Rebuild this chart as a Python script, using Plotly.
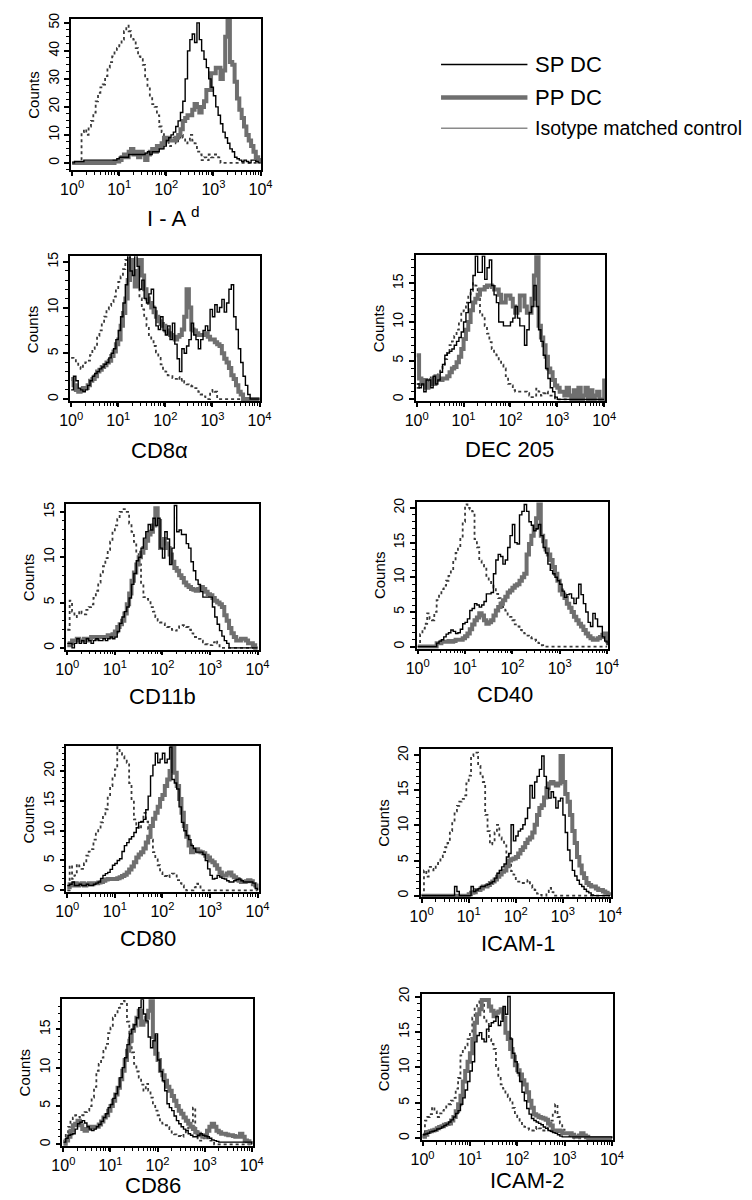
import plotly.graph_objects as go

W, H = 752, 1200
FONT = "Liberation Sans, Arial, Helvetica, sans-serif"

# channel grid: log10 fluorescence, 0.05 decade bins from 10^0 to 10^4
log_bins = [i / 20 for i in range(81)]
fluorescence = [10 ** b for b in log_bins]

# ---------------- I-A^d ----------------
iad_iso = [0,0,0,0,11,12,10,13,15,18,
           22,25,27,28,31,34,36,38,40,41,
           42,44,47,49,47,45,44,41,38,37,
           35,30,27,24,21,20,17,13,11,9,
           8,6,8,9,7,9,10,9,7,8,
           10,8,7,4,3,1,2,1,3,2,
           3,3,2,0,0,0,0,0,0,0,
           0,0,0,0,0,0,0,0,0,0, 0]
iad_sp = [0,0.5,0.5,0.5,0.5,1,1,1,1,1,
          1,1,1,1,1,1,1,1,1,1.5,
          2,2,2,2,3,3,3,3,3,3,
          3,3.5,4,3,4,4,4,5,5,6,
          8,9,10,11,13,15,18,22,30,40,
          44,46,43,50,44,40,37,34,30,27,
          24,20,17,14,11,9,7,5,4,2,
          1.5,1,0.5,1,0.5,0,1,1,0.5,0, 0]
iad_pp = [0,0,0,0,0,0,0,0,0,0,
          0,0,0,0,0,0,0,0,0.5,0.5,
          1,2,3,2,4,5,3,4,2,4,
          3,1,3,4,5,4,6,5.5,7,9,
          9,8,8,8,9,10,12,15,16,17,
          17,19,21,20,18,20,22,26,26,32,
          32,34,34,30,33,45,52,36,35,29,
          23,19,16,13,10,8,6,4,2,1, 0]

# ---------------- CD8a ----------------
cd8_iso = [4.5,4.4,4,3.5,3.3,3.8,4,4.2,4.8,5.5,
           5.8,6.9,7.5,8.3,9,9.8,10.2,10.6,11.2,12,
           12.8,13.4,14.2,15.2,15.5,14.8,14,13,12.3,11,
           9.8,9,8,7,6.5,5.8,5.1,4.5,3.8,3.3,
           3,2.6,2.5,2.3,2.2,2.4,2,2.2,1.8,1.6,
           1.5,1.4,1.2,1.2,0.8,0.5,0.3,0,0,0.8,
           1,0.8,0,0,0,0,0,0,0,0,
           0,0,0,0,0,0,0,0,0,0, 0]
cd8_sp = [1,2.5,2,1.2,1,0.8,1,1.5,2,2.5,
          2.8,3,3.3,3.5,3.8,4,4.5,5,5.5,6.5,
          7.5,9,10.5,12.5,16,14,13.5,16,14.5,12,
          13,11,10.5,11.5,12,10,8,7.6,9,7.5,
          7,8,6.5,8.3,6,4.4,3,5.5,5,5.8,
          6.5,8.3,7,6.5,5.5,6.5,7.5,8,7.5,9.8,
          9,10.3,9.5,10,10.9,9.5,10.5,12,12.5,9,
          7.6,5.5,4,2.5,1.5,0.5,0,0,0,0, 0]
cd8_pp = [2.2,1.5,1,0.8,1,1.2,1.2,1.5,2,2.2,
          2.5,3,3.2,3.5,3.7,4,4.2,4.7,5.2,6,
          6.5,8,9.4,11,13,15.2,14,12.3,14,15.2,
          13.5,12,11,10.5,10,9.5,9,8.5,8.2,8,
          7.5,7.2,7,6.8,6.5,6.8,7,7.6,9,12,
          10,7.6,7.5,7.2,7,7,7,7.2,6.8,6.5,
          6.5,6.2,6,5.8,5,4.4,4,3.4,2.6,2.2,
          1.5,0.8,0.5,0,0,0,0,0,0,0, 0]

# ---------------- DEC 205 ----------------
dec_iso = [1.5,2,2.5,2.5,2,2.5,3,2.5,2.5,3.5,
           4,4.5,5.2,6,7,7.5,8.2,9,10,11.2,
           11.5,12.5,13.4,14,15,14.7,13,11.2,10.5,9.5,
           8.5,7.4,6.5,6,5.7,5,4.5,4,3,2,
           1.8,1.2,1,1,1,1,1,0.8,0.5,0.3,
           0.5,1.4,1,0.5,0.8,1,0.5,0.5,0.3,0,
           0,0,0,0,0,0,0,0,0,0,
           0,0,0,0,0,0,0,0,0,0, 0]
dec_sp = [2,1.5,2,1,2.5,2.5,1.5,3,2,2.5,
          3.5,4.5,5.7,6,6.2,6.5,7,7.5,8,8.7,
          10,11.2,12.5,14.2,16,18.5,16.4,16.4,18.5,15.5,
          17,18,14.7,13.5,12.5,10,10,9.5,9.5,9.5,
          10,10.5,12,10.5,9.5,9.5,7,9,11.2,12,
          14.7,12,9,7.5,5.7,4,2.7,1.5,1,0.3,
          0,0,0,0,0,0,0,0,0,0,
          0,0,0,0,0,0,0,0,0,0, 0]
dec_pp = [5.7,2.7,2,2.5,1.5,2,2.5,2,3,2.5,
          2.5,2.7,2.7,3,3.5,4,4.2,4.8,5.5,6.5,
          7.8,9,10,11.5,12.5,13,13.5,14.2,14.2,14.5,
          14.7,14.7,14.5,14.2,14.2,13.5,12.5,12.5,13.4,13.4,
          13,12,11.2,11.5,13.4,13.4,12,11.2,11.2,13,
          16,18.5,9.5,8,7,5.5,4,3.5,2.5,1.8,
          1.5,1,1,0.5,1.5,0.5,0,1.2,0,1.5,
          0,0.5,1.5,0,1.2,0,0.5,1,0,0, 2.7]

# ---------------- CD11b ----------------
cd11b_iso = [2,5.2,4,3.4,3.8,4.1,3.8,3.7,4.2,4.5,
             4.8,5.5,6.3,7.2,8.1,9,9.9,10.8,11.7,12.8,
             13.5,14.2,15,15.3,15.3,15,13.7,12.8,11.7,10.5,
             9.2,7,5.6,5.4,5.2,4.5,4,3.4,3,2.8,
             2.7,2.5,2.3,2.1,2,1.9,2.2,2.5,2.5,2.4,
             2.3,2,1.6,1.2,1.2,1,0.8,0.6,0.4,0.3,
             0.3,0.6,0.8,0.5,0,0,0,0,0,0,
             0,0,0,0,0,0,0,0,0,0, 0]
cd11b_sp = [0.5,0.5,0,0.5,1,0.5,0.8,0.5,1,0.8,
            0.5,0.8,1,0.8,0.8,1,0.8,1,1.2,1,
            1.2,1.8,2.7,3.4,4,4.5,5.5,7,8.2,9.6,
            10,11,12.1,12.8,13.6,13,14.3,13.5,14.3,11,
            9.9,12.8,12,9.2,11,15.7,12.8,13,12.5,12.5,
            11.5,11,9.5,8.5,7.5,7,6.2,5.6,5.6,5.6,
            5.6,4.5,3.4,2.6,1.9,1.3,0.8,0.5,0,0,
            0,0,0,0,0,0,0,0,0,0, 0]
cd11b_pp = [0.3,0.5,0.8,0.8,1,0.8,0.8,1,0.8,1,
            1.2,1.2,1,1.2,1.2,1.2,1.2,1.4,1.2,1.5,
            1.8,2.3,2.6,3,3.8,4.8,6,7.4,8.3,9.2,
            10,10.5,11,11.8,12.5,12.8,13.5,15.4,14,11,
            12,11.5,11,10.3,9.5,8.8,8.5,8,7.7,7.2,
            6.9,6.7,6.5,6.4,6.3,6.5,6.7,6.5,6.2,5.9,
            5.8,5.5,5.2,5,4.8,4.5,3.6,3,2.2,1.6,
            1.2,0.8,0.8,1,1,0.8,0.5,0.5,0.3,0, 0]

# ---------------- CD40 ----------------
cd40_iso = [0,1.8,2.6,3.3,4.8,4,3.8,5,6.7,7.5,
            8.3,8.8,9.5,10.2,11,12.4,13.5,14.3,15.7,18,
            20.5,20,19.8,19.5,15.5,14.3,12.4,11.8,11.4,10.2,
            9.5,9,8.5,7.6,7,6.2,5.7,5.2,4.6,4.3,
            3.8,3.2,2.9,2.4,2.2,1.9,1.6,1.4,1.2,1,
            0.8,0.5,0.2,0,0,0,0,0,0,0,
            0,0,0,0,0,0,0,0,0,0,
            0,0,0,0,0,0,0,0,0,0, 0]
cd40_sp = [0,0,0,0,0,0,0,0,0.5,0.8,
           1,1.4,1.8,2,2.4,2.2,1.9,2,2.5,3.3,
           3.5,4,5.2,5.5,6.2,6,5.7,6,6.5,7.6,
           7.6,7.8,10.5,12.5,13.3,13,11.9,12.5,14.3,16,
           17.6,15,14.8,19,19.5,20.5,19.5,18,17.5,16.7,
           17,17.6,16,14.3,13.5,11.9,11,10.5,10,9.5,
           9,8,7.1,7.5,7.6,7,6.2,7,9,7.5,
           6.2,5,3.5,2.9,4.8,4,2.9,2.9,1.4,0.8, 0.2]
cd40_pp = [0,0,0,0,0,0,0,0,0.5,0.5,
           0.7,0.7,0.7,0.8,0.7,0.8,1,1,1,1.2,
           1.5,1.9,2.5,3.2,3.8,4.2,4.8,4.5,3.8,3.3,
           3.5,3.8,4.5,5.2,5.7,6.2,6.7,7.2,7.8,8.1,
           8.5,8.8,9,9.5,10,10.5,13.3,14.8,16,17.1,
           18.5,20.5,16,15.2,14,13.3,12.5,11.5,10.5,9.5,
           8.1,7.5,7,6.2,5.6,5,4.3,3.8,3.3,2.9,
           2.4,1.9,1.5,1.2,1,1,1.2,1.4,1.7,1.9, 0.5]

# ---------------- CD80 ----------------
cd80_iso = [0,4.2,1.9,2.5,4.4,4,3.6,4.5,5.8,6.5,
            6.9,8.5,9.7,10.5,11.4,12.5,13.6,15.8,17.5,19,
            20.3,24,23,22.5,22,21.4,18,15.3,11.9,11,
            10.3,11.5,13,11.5,10.3,8.5,6.4,5.2,4.2,3,
            2.5,2.4,2.2,2.5,2.8,2.5,1.7,1.2,0.8,0.3,
            0,0,0,0.5,1.1,0.8,0,0,0,0,
            0,0,0,0,0,0,0,0,0,0,
            0,0,0,0,0,0,0,0,0,0, 0]
cd80_sp = [0.8,1,1.4,0.8,0.8,1,0.8,0.8,1,0.8,
           0.8,1,1.2,1.4,2,2.5,2.8,3,3.5,4.2,
           4.5,5,5.3,6.5,7.5,8,8.6,9,9.7,10.5,
           11.4,11.5,11.9,13.5,15.8,19.2,21,23,21.4,22,
           23,21.4,22,24,18.6,18,17,14,11.4,10,
           9.2,8.5,7.5,7,6.4,6.4,6.4,6,5,3.6,
           2.5,1.9,2,2.5,2.2,2,1.9,1.6,1.4,1.4,
           1.6,1.8,1.9,1.6,1.4,1.4,1.4,1.4,1.2,0.3, 0]
cd80_pp = [0.5,1,0.8,1.2,0.8,1,1.2,0.8,1,1.2,
           1,1.2,1.2,1.3,1.4,1.6,1.8,1.9,1.9,1.9,
           1.9,2,2.2,2.4,2.6,3,3.5,4,4.7,5.5,
           6,6.4,7,8,9,10.8,12,13,14,15.3,
           16,17.5,18.6,20,24,19.7,17.5,15.3,13,10.8,
           9,7.5,6.4,6.8,6.9,6.5,6.4,6.2,5.8,5.5,
           5,4.7,4.2,3.6,3,2.5,2.5,2.8,3,2.5,
           2.2,1.9,1.6,1.4,1.4,1.5,1.7,1.5,1,0.8, 0]

# ---------------- ICAM-1 ----------------
icam1_iso = [0.1,3.6,2.7,4.1,3.8,3.6,4.5,5,5.5,6.2,
             6.9,7.5,9.2,10.5,12,12.8,13.4,13.8,14.3,16,
             17.1,19.9,20.4,20.4,18.5,17,16.2,11.5,9.2,7.3,
             7.5,9,10.1,8.3,8,7.3,6,5,3.5,3,
             2.2,2,1.8,1.8,2,2.2,1.5,1.1,0.8,0.3,
             0.1,0,0,0.5,1.1,0.5,0,0,0,0,
             0,0,0,0,0,0,0,0,0,0,
             0,0,0,0,0,0,0,0,0,0, 0]
icam1_sp = [0,0,0,0,0,0,0,0,0,0,
            0,0,0,0,1.3,0.6,0,0,0,0,
            0,1.3,0.6,0.8,1,1.3,1.3,1.5,1.6,1.8,
            2,2.5,3.2,3.6,4.1,4.5,5.5,6,10.1,7.8,
            8.5,9.2,9.5,10.1,11,12.5,15.7,13.9,16.2,17,
            18,19.9,17,15.3,13.9,14.8,14,12.5,13.5,13.9,
            11.5,9,6.5,5,3.6,2.8,2.2,1.6,1.3,0.9,
            0.6,0.4,0.1,0,0,0,0,0,0,0, 0]
icam1_pp = [0,0,0,0,0,0,0,0,0,0,
            0,0,0,0,0,0,0,0,0,0,
            0.2,0.4,0.5,0.8,0.8,1,1.3,1.3,1.5,1.8,
            2,2.3,2.7,3,3.4,3.6,4.2,5,5.2,5.3,
            5.5,6,6.5,6.9,7.5,8,8.3,9,10.1,11.5,
            12.5,12.9,14,15.3,16,16.2,16,15.7,16,19.9,
            16.2,14.5,13.4,11.5,9.2,7.5,5.5,4.3,3.2,2.5,
            1.8,1.5,1.3,1.3,1,0.8,0.8,0.6,0.4,0.2, 0]

# ---------------- CD86 ----------------
cd86_iso = [0.5,1.5,2.3,3.1,3.5,3.8,3.6,3.5,3.8,4.2,
            4.4,5,6.1,7.5,9.6,10.5,11.3,12.2,13.1,14.5,
            15.2,16.5,17,17.8,18.3,18.7,18.5,16,13.9,12,
            10.5,9.5,8.7,7.8,7,7.9,7,6.1,5.2,4.4,
            3.8,3,2.7,2.5,2.3,2,1.4,1.3,1.2,1.1,
            1,1.4,1.8,2.2,2.7,4.8,2,0.5,0.5,0.8,
            1,0.8,0.5,0.5,0,0,0,0,0,0,
            0,0,0,0,0,0,0,0,0,0, 0]
cd86_sp = [0.3,0.8,1.2,1.3,1.4,2,2.7,2.9,3.1,2.8,
           2.3,2,1.8,2,2.3,2.6,3,3.5,4,4.8,
           5.2,6,6.6,7.5,8.7,10,11.3,13,14.4,15,
           15.6,16.5,17.8,18.9,17,16.1,14,12.6,13.5,14.4,
           11,9.5,8.3,7,5.3,4.8,4.4,3.7,3.1,2.7,
           2.3,2,1.8,1.4,1.2,1,1,1.2,1.4,1.2,
           1.1,1,0.8,0.6,0.5,0.4,0.3,0.3,0.3,0.3,
           0.3,0.3,0.3,0.3,0.3,0.3,0.3,0.3,0.3,0.3, 0]
cd86_pp = [0.1,0.5,1,1.8,2.5,2.7,3.1,2.5,2,1.8,
           2,2.3,2.2,2.3,2.3,2.6,3,3.5,3.8,4.4,
           5,5.7,6.5,7.4,8.5,9.6,11,12.2,13.5,14.8,
           15.5,16.5,17.4,15.6,16,16.5,17.4,18.7,14,11.8,
           11,9.6,9,8.3,7.5,7,6.3,5.7,5,4.4,
           4,3.5,3.1,2.7,2.3,2,1.6,1.4,1.2,1,
           1.2,1.8,2.3,2.7,2.3,1.8,1.6,1.4,1.4,1.3,
           1.2,1.2,1.1,1,1,1.4,1,0.5,0.4,0.2, 0.1]

# ---------------- ICAM-2 ----------------
icam2_iso = [0.2,2.5,3,3.4,4.4,3.8,3,3.5,3.9,4.2,
             4.5,4.8,5.3,5.7,7,8.5,11.7,12.5,13.1,14,
             14.9,17,18.6,19.1,19.3,19.5,17,16.3,14,13.3,
             12.6,9.9,8.5,7.6,7,6.2,5.8,5.3,4.3,3.4,
             3,2.5,2,1.6,1.4,1.2,1.1,1.3,1.6,1.4,
             1.3,1.1,1.1,1.5,2.5,3.5,4.8,3,2.1,1.2,
             0.7,0.4,0.3,0.2,0,0,0,0,0,0,
             0,0,0,0,0,0,0,0,0,0, 0]
icam2_sp = [0.5,0.6,0.7,0.9,1,1.1,1.3,1.4,1.6,1.8,
            2,2.3,2.6,3,3.5,3.9,4.8,5.7,6.8,8,
            9.5,10.8,13.6,14.5,14.9,14,13.6,15.4,15.8,16.3,
            16.5,17.2,15.9,16.5,18.6,17.5,20,14,12,10.8,
            9.2,8,6.5,5.3,4.2,3.4,2.8,2.5,2.3,2.1,
            1.9,1.6,1.4,1.1,1,0.8,0.7,0.5,0.3,0.2,
            0.2,0.2,0.2,0.2,0.2,0.2,0.2,0.2,0.2,0.2,
            0.2,0.2,0.2,0.2,0.2,0.2,0.2,0.2,0.2,0.2, 0]
icam2_pp = [0.2,0.5,0.9,1,1.1,1.2,1.4,1.6,1.7,1.9,
            2,2.1,2.5,3,3.8,4.8,6,8,9.5,10.8,
            12,14,16.3,17.5,18.2,19.5,19.5,19.5,18.6,18,
            17.2,17.7,17.9,18.2,17,14.9,14,12.6,11.5,10.3,
            9.6,9,8.2,7.6,6.5,5.3,4.3,3.4,3.2,3,
            2.9,2.8,2.6,2.1,1.8,1.1,1.1,1.1,1,0.7,
            0.7,0.7,0.7,0.5,0.2,0.2,0.4,0.7,0.4,0.2,
            0,0,0,0,0,0,0,0,0,0, 0]

x_tick_vals = [1, 10, 100, 1000, 10000]
x_tick_text = ["10<sup>0</sup>", "10<sup>1</sup>", "10<sup>2</sup>",
               "10<sup>3</sup>", "10<sup>4</sup>"]
x_minor_vals = [m * d for d in (1, 10, 100, 1000) for m in range(2, 10)]

legend_labels = ["SP DC", "PP DC", "Isotype matched control"]

# layout of each panel in pixels: (left, right, top, bottom); title centre (tx, ty)
panels = [
    dict(title="I - A <sup>d</sup>", sp=iad_sp, pp=iad_pp, iso=iad_iso,
         box=(62, 258, 11, 163), yr=(-2.5, 51.4), yt=[0, 10, 20, 30, 40, 50], ym=2.5, tx=167, ty=210),
    dict(title="CD8α", sp=cd8_sp, pp=cd8_pp, iso=cd8_iso,
         box=(61, 257, 250, 396), yr=(-0.25, 15.6), yt=[0, 5, 10, 15], ym=1, tx=153, ty=445),
    dict(title="DEC 205", sp=dec_sp, pp=dec_pp, iso=dec_iso,
         box=(417, 612, 249, 396), yr=(-0.25, 18.6), yt=[0, 5, 10, 15], ym=1, tx=514, ty=444),
    dict(title="CD11b", sp=cd11b_sp, pp=cd11b_pp, iso=cd11b_iso,
         box=(57, 255, 499, 646), yr=(-0.2, 15.9), yt=[0, 5, 10, 15], ym=1, tx=156, ty=693),
    dict(title="CD40", sp=cd40_sp, pp=cd40_pp, iso=cd40_iso,
         box=(418, 615, 497, 645), yr=(-0.3, 20.9), yt=[0, 5, 10, 15, 20], ym=1, tx=509, ty=691),
    dict(title="CD80", sp=cd80_sp, pp=cd80_pp, iso=cd80_iso,
         box=(57, 255, 743, 890), yr=(-0.3, 24.2), yt=[0, 5, 10, 15, 20], ym=1, tx=141, ty=937),
    dict(title="ICAM-1", sp=icam1_sp, pp=icam1_pp, iso=icam1_iso,
         box=(422, 618, 746, 895), yr=(-0.2, 20.9), yt=[0, 5, 10, 15, 20], ym=1, tx=523, ty=942),
    dict(title="CD86", sp=cd86_sp, pp=cd86_pp, iso=cd86_iso,
         box=(53, 249, 998, 1146), yr=(-0.25, 18.9), yt=[0, 5, 10, 15], ym=1, tx=146, ty=1185),
    dict(title="ICAM-2", sp=icam2_sp, pp=icam2_pp, iso=icam2_iso,
         box=(423, 620, 993, 1140), yr=(-0.3, 20.3), yt=[0, 5, 10, 15, 20], ym=1, tx=532, ty=1180),
]

fig = go.Figure()
annotations = []
shapes = []
layout_axes = {}


def px(x):
    return x / W


def py(y):
    return 1 - y / H


for k, p in enumerate(panels, start=1):
    xa = "x" if k == 1 else f"x{k}"
    ya = "y" if k == 1 else f"y{k}"
    l, r, t, b = p["box"]
    fig.add_trace(go.Scatter(x=fluorescence, y=p["iso"], xaxis=xa, yaxis=ya, mode="lines",
                             line=dict(shape="hv", color="#3a3a3a", width=1.8, dash="dot"),
                             showlegend=False, hoverinfo="skip"))
    fig.add_trace(go.Scatter(x=fluorescence, y=p["pp"], xaxis=xa, yaxis=ya, mode="lines",
                             line=dict(shape="hv", color="#6f6f6f", width=4),
                             showlegend=False, hoverinfo="skip"))
    fig.add_trace(go.Scatter(x=fluorescence, y=p["sp"], xaxis=xa, yaxis=ya, mode="lines",
                             line=dict(shape="hv", color="#000000", width=1.4),
                             showlegend=False, hoverinfo="skip"))
    xkey = "xaxis" if k == 1 else f"xaxis{k}"
    ykey = "yaxis" if k == 1 else f"yaxis{k}"
    layout_axes[xkey] = dict(
        domain=[px(l), px(r)], anchor=ya, type="log", range=[-0.02, 4.02],
        tickvals=x_tick_vals, ticktext=x_tick_text, ticks="outside", ticklen=4,
        tickwidth=1.5, tickcolor="black", showline=True, mirror=True, linecolor="black",
        linewidth=1.5, showgrid=False, zeroline=False,
        tickfont=dict(family=FONT, size=16, color="black"),
        minor=dict(tickvals=x_minor_vals, ticks="outside", ticklen=3, tickwidth=1.2,
                   tickcolor="black", showgrid=False),
        fixedrange=True)
    layout_axes[ykey] = dict(
        domain=[py(b), py(t)], anchor=xa, range=list(p["yr"]), tickvals=p["yt"],
        tickangle=-90, ticks="outside", ticklen=5, tickwidth=1.5, tickcolor="black",
        showline=True, mirror=True, linecolor="black", linewidth=1.5, showgrid=False,
        zeroline=False, tickfont=dict(family=FONT, size=14, color="black"),
        minor=dict(dtick=p["ym"], tick0=0, ticks="outside", ticklen=3, tickwidth=1,
                   tickcolor="black", showgrid=False),
        fixedrange=True)
    annotations.append(dict(text="Counts", x=px(l - 39), y=py((t + b) / 2), xref="paper",
                            yref="paper", xanchor="center", yanchor="middle",
                            textangle=-90, showarrow=False,
                            font=dict(family=FONT, size=15, color="black")))
    annotations.append(dict(text=p["title"], x=px(p["tx"]), y=py(p["ty"]), xref="paper",
                            yref="paper", xanchor="center", yanchor="middle", showarrow=False,
                            font=dict(family=FONT, size=22, color="black")))

# legend drawn by hand
legend_rows = [(57, "#000000", 1.5, 22), (90, "#6f6f6f", 4.5, 22), (121, "#8a8a8a", 1.5, 19.5)]
for (ly, col, wdt, fs), lab in zip(legend_rows, legend_labels):
    shapes.append(dict(type="line", xref="paper", yref="paper", x0=px(443), x1=px(532),
                       y0=py(ly), y1=py(ly), line=dict(color=col, width=wdt)))
    annotations.append(dict(text=lab, x=px(538), y=py(ly), xref="paper", yref="paper",
                            xanchor="left", yanchor="middle", showarrow=False,
                            font=dict(family=FONT, size=fs, color="black")))

fig.update_layout(width=W, height=H, margin=dict(l=0, r=0, t=0, b=0),
                  paper_bgcolor="white", plot_bgcolor="white",
                  annotations=annotations, shapes=shapes, **layout_axes)

fig.write_html("out.html", config={"displayModeBar": False},
               post_script="document.body.style.margin='0px';"
                           "document.documentElement.style.margin='0px';")
